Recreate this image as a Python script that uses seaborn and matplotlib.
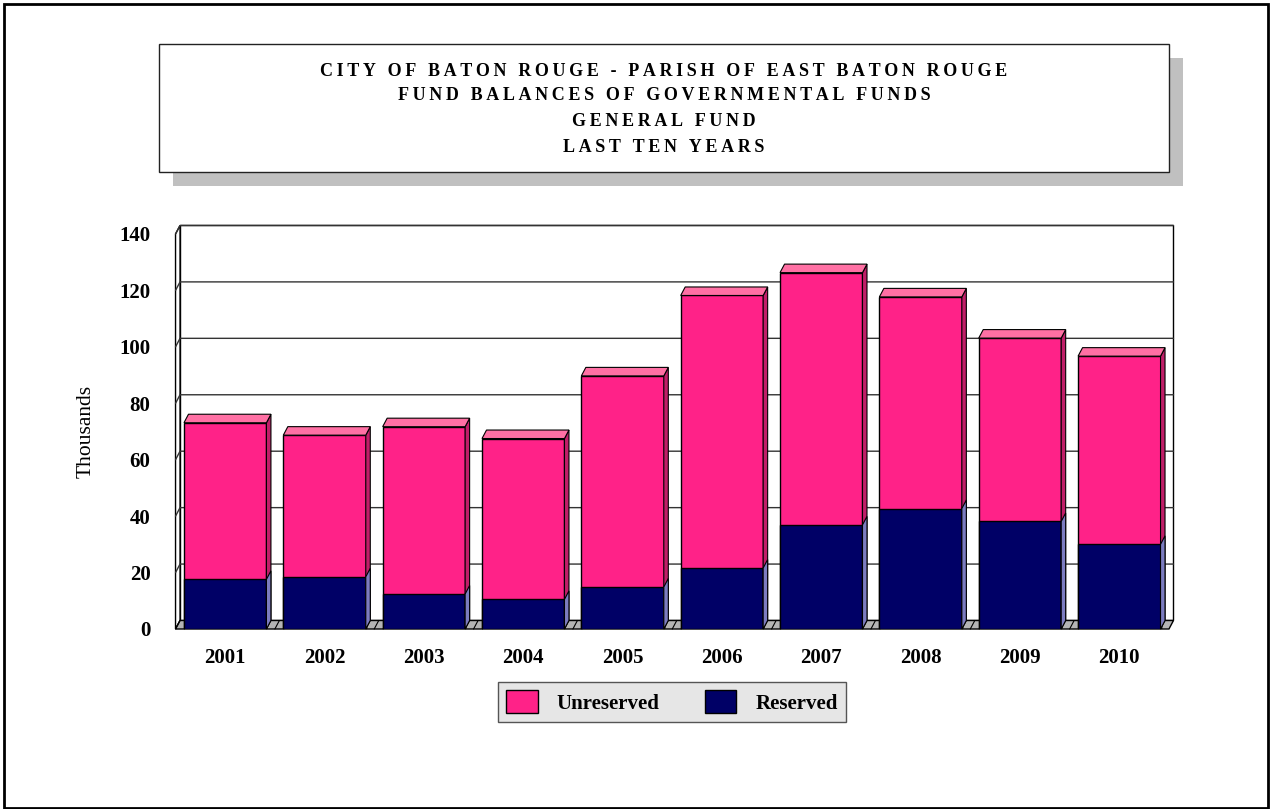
import numpy as np
import pandas as pd
import matplotlib
matplotlib.use('Agg')
import matplotlib.pyplot as plt
from matplotlib.patches import Polygon, Rectangle, Patch
import seaborn as sns

# General Fund balances, thousands
years = ['2001', '2002', '2003', '2004', '2005', '2006', '2007', '2008', '2009', '2010']
reserved = [17.6, 18.5, 12.4, 10.5, 14.9, 21.6, 36.9, 42.7, 38.1, 30.0]
unreserved = [55.5, 50.2, 59.3, 57.0, 74.8, 96.6, 89.4, 75.0, 65.0, 66.7]
y_ticks = [0, 20, 40, 60, 80, 100, 120, 140]
title_lines = ['CITY OF BATON ROUGE - PARISH OF EAST BATON ROUGE',
               'FUND BALANCES OF GOVERNMENTAL FUNDS',
               'GENERAL FUND',
               'LAST TEN YEARS']

PINK = '#FF2288'
PINK_SIDE = '#C01E68'
PINK_TOP = '#FF70A4'
NAVY = '#000066'
NAVY_SIDE = '#7C7CC0'
DX, DY = 4.5, 8.5   # depth of the fake 3D, in pixels

df = pd.DataFrame({'year': years, 'Reserved': reserved, 'Unreserved': unreserved})
df['total'] = df['Reserved'] + df['Unreserved']

sns.set_theme(style='white')
plt.rcParams['font.family'] = ['Liberation Serif', 'DejaVu Serif']
plt.rcParams.update({'text.color': 'black', 'axes.labelcolor': 'black',
                     'xtick.color': 'black', 'ytick.color': 'black'})

fig = plt.figure(figsize=(12.72, 8.09), dpi=100)
W, H = 1272, 809

# outer frame
fig.add_artist(Rectangle((4 / W, 1 / H), 1264 / W, 804 / H, transform=fig.transFigure,
                         fill=False, edgecolor='black', lw=2))

# title box with shadow
fig.add_artist(Rectangle((173 / W, 1 - 186 / H), 1010 / W, 128 / H, transform=fig.transFigure,
                         facecolor='#C0C0C0', edgecolor='none'))
fig.add_artist(Rectangle((159 / W, 1 - 172 / H), 1010 / W, 128 / H, transform=fig.transFigure,
                         facecolor='white', edgecolor='#222222', lw=1))


def spaced(s):
    return '\u2009'.join(s)


for line, ypx in zip(title_lines, [72, 96, 122, 148]):
    fig.text(664 / W, 1 - ypx / H, spaced(line), ha='center', va='center',
             fontsize=13, fontweight='bold')

ax = fig.add_axes([0.138, 0.2225, 0.781, 0.4883])
sns.barplot(data=df, x='year', y='total', color=PINK, saturation=1, width=0.83,
            edgecolor='black', linewidth=1, errorbar=None, ax=ax, zorder=3)
sns.barplot(data=df, x='year', y='Reserved', color=NAVY, saturation=1, width=0.83,
            edgecolor='black', linewidth=1, errorbar=None, ax=ax, zorder=3)
bars = list(ax.patches)

ax.set_xlim(-0.5, len(years) - 0.5)
ax.set_ylim(0, 140)
x0, x1 = ax.get_xlim()
ddx = DX / (ax.bbox.width / (x1 - x0))
ddy = DY / (ax.bbox.height / 140)

# back wall, left wall, floor
ax.add_patch(Rectangle((x0 + ddx, ddy), x1 - x0, 140, facecolor='white', edgecolor='black',
                       lw=1, zorder=0, clip_on=False))
ax.add_patch(Polygon([(x0, 0), (x0, 140), (x0 + ddx, 140 + ddy), (x0 + ddx, ddy)],
                     closed=True, facecolor='white', edgecolor='black', lw=1, zorder=0.5, clip_on=False))
ax.add_patch(Polygon([(x0, 0), (x1, 0), (x1 + ddx, ddy), (x0 + ddx, ddy)], closed=True,
                     facecolor='#B4B4B4', edgecolor='black', lw=1, zorder=1, clip_on=False))
for k in np.arange(x0, x1 - 0.5, 1.0):
    ax.plot([k, k + ddx], [0, ddy], color='black', lw=0.8, zorder=1.5, clip_on=False)
    ax.plot([k + 0.09, k + 0.09 + ddx], [0, ddy], color='black', lw=0.8, zorder=1.5, clip_on=False)

# gridlines on the walls
for t in y_ticks[1:]:
    ax.plot([x0, x0 + ddx, x1 + ddx], [t, t + ddy, t + ddy], color='#333333', lw=1,
            zorder=0.8, clip_on=False)

# side and top faces of the bars
n = len(years)
for i, p in enumerate(bars):
    bx, bw, bh = p.get_x(), p.get_width(), p.get_height()
    side = PINK_SIDE if i < n else NAVY_SIDE
    ax.add_patch(Polygon([(bx + bw, 0), (bx + bw, bh), (bx + bw + ddx, bh + ddy), (bx + bw + ddx, ddy)],
                         closed=True, facecolor=side, edgecolor='black', lw=0.8,
                         zorder=3.5 if i < n else 3.6, clip_on=False))
    if i < n:
        ax.add_patch(Polygon([(bx, bh), (bx + bw, bh), (bx + bw + ddx, bh + ddy), (bx + ddx, bh + ddy)],
                             closed=True, facecolor=PINK_TOP, edgecolor='black', lw=0.8,
                             zorder=3.5, clip_on=False))

for s in ax.spines.values():
    s.set_visible(False)
ax.set_yticks(y_ticks)
ax.set_yticklabels([str(t) for t in y_ticks], fontsize=15, fontweight='bold')
ax.set_xticks(range(n))
ax.set_xticklabels(years, fontsize=15, fontweight='bold')
ax.tick_params(axis='y', length=0, pad=18)
ax.tick_params(axis='x', length=0, pad=14)
ax.set_xlabel('')
ax.set_ylabel('Thousands', fontsize=15.5)
ax.yaxis.set_label_coords(-0.08, 0.5)
ax.set_facecolor('none')

handles = [Patch(facecolor=PINK, edgecolor='black', lw=1), Patch(facecolor=NAVY, edgecolor='black', lw=1)]
leg = fig.legend(handles, ['Unreserved', 'Reserved'], loc='center',
                 bbox_to_anchor=(672 / W, 1 - 702 / H), ncol=2, frameon=True, fancybox=False,
                 edgecolor='#555555', facecolor='#E6E6E6', framealpha=1,
                 prop={'size': 15, 'weight': 'bold'}, handlelength=1.5, handleheight=1.3,
                 columnspacing=2.2, borderpad=0.4, handletextpad=0.9)
leg.get_frame().set_linewidth(1)

plt.savefig('out.png', dpi=100)
